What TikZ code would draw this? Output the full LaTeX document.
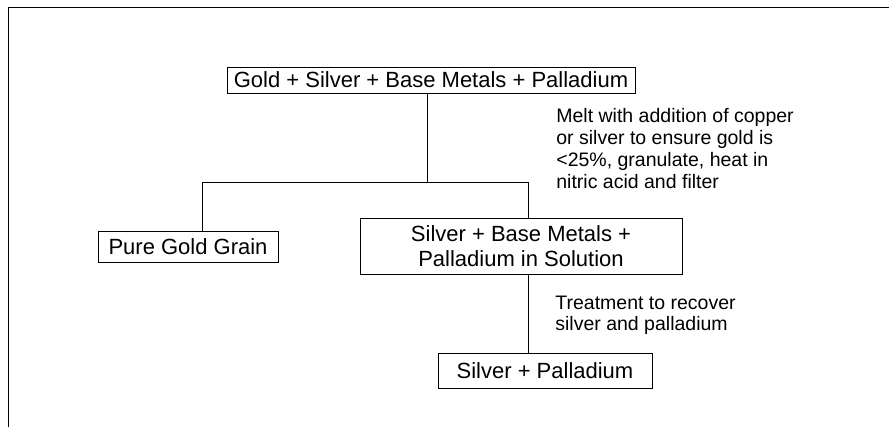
\documentclass[tikz,border=0pt]{standalone}
\usepackage{fontspec}
\setmainfont{Liberation Sans}

\begin{document}
\begin{tikzpicture}[x=1pt, y=-1pt, line width=0.8pt,
    metal/.style={draw, inner sep=0pt, font=\fontsize{22}{25}\selectfont, align=center},
    note/.style={inner sep=0pt, anchor=base west, align=left, font=\fontsize{19.5}{22}\selectfont}]

\useasboundingbox (0,0) rectangle (889,427);

% Frame (top and left edges only)
\draw (8,427) -- (8,7) -- (889,7);

% Boxes
\node[metal, minimum width=408, minimum height=26] (mix) at (431,80) {Gold + Silver + Base Metals + Palladium};
\node[metal, minimum width=180, minimum height=31] (gold) at (188,246.5) {Pure Gold Grain};
\node[metal, minimum width=322, minimum height=56] (soln) at (521,246) {Silver + Base Metals +\\Palladium in Solution};
\node[metal, minimum width=214, minimum height=35] (agpd) at (545,370.5) {Silver + Palladium};

% Branching lines
\coordinate (split) at (427,182);
\coordinate (left) at (202,182);
\coordinate (right) at (528,182);
\draw (mix.south -| split) -- (split);
\draw (gold.north -| left) -- (left) -- (right) -- (soln.north -| right);
\draw (soln.south -| right) -- (agpd.north -| right);

% Process notes (anchored on the baseline of their last line)
\node[note] (melt) at (556,189) {Melt with addition of copper\\or silver to ensure gold is\\{<}25\%, granulate, heat in\\nitric acid and filter};
\node[note, font=\fontsize{19.5}{21}\selectfont] (treat) at (555,331) {Treatment to recover\\silver and palladium};

\end{tikzpicture}
\end{document}
